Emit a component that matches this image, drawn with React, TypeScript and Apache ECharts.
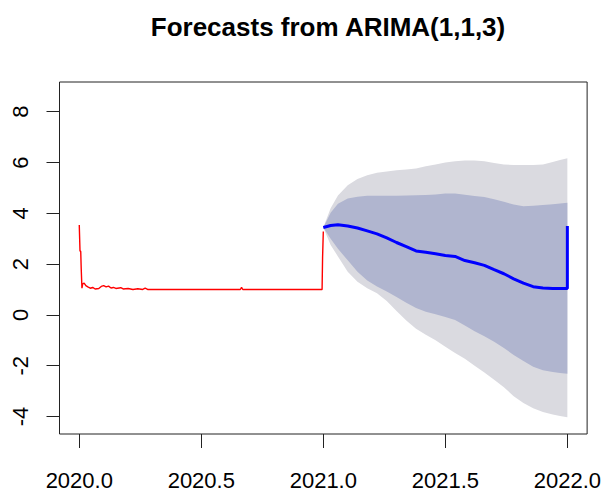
import { useEffect, useRef } from "react";
import * as echarts from "echarts";

const TITLE = "Forecasts from ARIMA(1,1,3)";
const xTickValues = [2020, 2020.5, 2021, 2021.5, 2022];
const yTickValues = [-4, -2, 0, 2, 4, 6, 8];

const historyTimes = [
  2020.0, 2020.003, 2020.006, 2020.008, 2020.011, 2020.014, 2020.02, 2020.027,
  2020.035, 2020.045, 2020.055, 2020.065, 2020.08, 2020.09, 2020.1, 2020.11,
  2020.12, 2020.13, 2020.14, 2020.15, 2020.17, 2020.18, 2020.2, 2020.22,
  2020.24, 2020.26, 2020.27, 2020.28, 2020.66, 2020.665, 2020.67, 2020.995,
  2020.997, 2021.0,
];
const historyValues = [
  3.54, 2.52, 2.5, 1.82, 1.05, 1.22, 1.25, 1.15, 1.1, 1.05, 1.08, 1.02, 1.04,
  1.12, 1.15, 1.1, 1.13, 1.06, 1.08, 1.04, 1.07, 1.02, 1.04, 1.0, 1.03, 1.0,
  1.05, 1.0, 1.0, 1.08, 1.0, 1.0, 2.26, 3.28,
];

const forecastTimes = [
  2021.0, 2021.03, 2021.06, 2021.1, 2021.14, 2021.18, 2021.22, 2021.26, 2021.3,
  2021.34, 2021.38, 2021.42, 2021.46, 2021.5, 2021.54, 2021.58, 2021.62,
  2021.66, 2021.7, 2021.74, 2021.78, 2021.82, 2021.86, 2021.9, 2021.94,
  2021.97, 2022.0,
];
const forecastMean = [
  3.44, 3.52, 3.55, 3.5, 3.42, 3.31, 3.19, 3.03, 2.85, 2.69, 2.52, 2.47, 2.41,
  2.34, 2.3, 2.14, 2.05, 1.95, 1.78, 1.62, 1.42, 1.25, 1.11, 1.06, 1.04, 1.04,
  1.04,
];
const meanEndTime = 2022.0;
const meanEndValue = 3.5;

const upper95 = [
  3.44, 4.2, 4.7, 5.1, 5.35, 5.5, 5.6, 5.65, 5.7, 5.72, 5.76, 5.85, 5.92, 6.0,
  6.05, 6.08, 6.08, 6.05, 5.98, 5.92, 5.9, 5.9, 5.9, 5.92, 6.02, 6.1, 6.17,
];
const upper80 = [
  3.44, 4.02, 4.38, 4.58, 4.65, 4.69, 4.69, 4.69, 4.69, 4.7, 4.71, 4.72, 4.74,
  4.78, 4.78, 4.73, 4.68, 4.64, 4.55, 4.45, 4.35, 4.28, 4.3, 4.33, 4.36, 4.39,
  4.42,
];
const lower80 = [
  3.44, 3.0, 2.6, 2.15, 1.7, 1.35, 1.12, 0.92, 0.7, 0.48, 0.27, 0.12, 0.03,
  -0.08, -0.2, -0.42, -0.64, -0.84, -1.06, -1.3, -1.58, -1.82, -2.04, -2.18,
  -2.25, -2.29, -2.32,
];
const lower95 = [
  3.44, 2.75, 2.3, 1.7, 1.3, 1.05, 0.85, 0.55, 0.15, -0.22, -0.55, -0.78, -1.0,
  -1.25, -1.5, -1.73, -2.0, -2.27, -2.55, -2.85, -3.2, -3.47, -3.68, -3.82,
  -3.92, -3.98, -4.03,
];

const FONT = "'Liberation Sans', Arial, sans-serif";

function bandSeries(lo: number[], hi: number[], color: string) {
  return {
    type: "custom",
    silent: true,
    data: forecastTimes.map((x, i) => [x, lo[i], hi[i]]),
    encode: { x: 0, y: [1, 2] },
    renderItem: (params: any, api: any) => {
      if (params.dataIndex !== 0) return null;
      const top = forecastTimes.map((x, i) => api.coord([x, hi[i]]));
      const bottom = forecastTimes.map((x, i) => api.coord([x, lo[i]])).reverse();
      return {
        type: "polygon",
        shape: { points: top.concat(bottom) },
        style: { fill: color, stroke: null },
      };
    },
  };
}

export default function App() {
  const ref = useRef<HTMLDivElement>(null);

  useEffect(() => {
    document.body.style.margin = "0";
    const chart = echarts.init(ref.current!, null, { renderer: "svg" });

    const pairs = (xs: number[], ys: number[]) => xs.map((x, i) => [x, ys[i]]);
    const meanData = pairs(forecastTimes, forecastMean).concat([[meanEndTime, meanEndValue]]);

    const tickStyle = { color: "#222", width: 1 };

    chart.setOption({
      animation: false,
      title: {
        text: TITLE,
        left: 323,
        textAlign: "center",
        top: 9,
        textStyle: { fontFamily: FONT, fontSize: 26, fontWeight: "bold", color: "#000" },
      },
      grid: {
        left: 59.5,
        right: 16,
        top: 82,
        bottom: 68,
        show: true,
        borderColor: "#222",
        borderWidth: 1,
        backgroundColor: "transparent",
      },
      xAxis: {
        type: "value",
        min: 2019.919,
        max: 2022.081,
        axisLine: { show: false, onZero: false },
        splitLine: { show: false },
        axisTick: { show: true, length: 14, lineStyle: tickStyle, customValues: xTickValues },
        axisLabel: {
          customValues: xTickValues,
          formatter: (v: number) => v.toFixed(1),
          fontFamily: FONT,
          fontSize: 22,
          color: "#000",
          margin: 35,
        },
      },
      yAxis: {
        type: "value",
        min: -4.69,
        max: 9.17,
        axisLine: { show: false, onZero: false },
        splitLine: { show: false },
        axisTick: { show: true, length: 13, lineStyle: tickStyle, customValues: yTickValues },
        axisLabel: {
          customValues: yTickValues,
          formatter: (v: number) => String(v),
          rotate: 90,
          fontFamily: FONT,
          fontSize: 22,
          color: "#000",
          margin: 28,
        },
      },
      series: [
        bandSeries(lower95, upper95, "#DADAE0"),
        bandSeries(lower80, upper80, "#B0B5CF"),
        {
          type: "line",
          data: pairs(historyTimes, historyValues),
          symbol: "none",
          lineStyle: { color: "#FF0000", width: 1.4 },
          silent: true,
        },
        {
          type: "line",
          data: meanData,
          symbol: "none",
          lineStyle: { color: "#0000FF", width: 3 },
          silent: true,
        },
      ],
    });

    return () => chart.dispose();
  }, []);

  return (
    <div
      ref={ref}
      style={{ position: "absolute", left: 0, top: 0, width: 604, height: 502 }}
    />
  );
}
